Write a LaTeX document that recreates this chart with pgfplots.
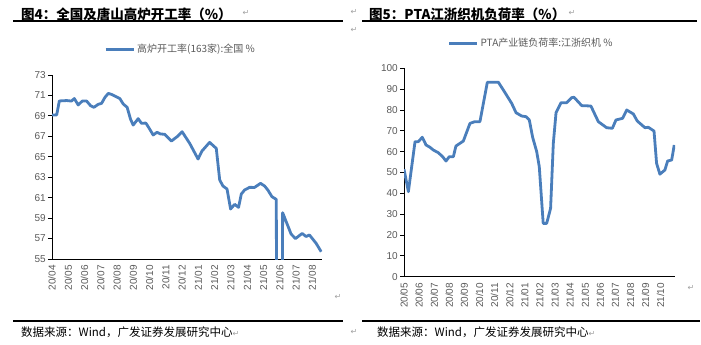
\documentclass[border=0pt]{standalone}
\usepackage{fontspec}
\setmainfont{Liberation Sans}
\newfontfamily\cjk{Noto Sans CJK SC}
\newfontfamily\dejavu{DejaVu Sans}
\usepackage{pgfplots}
\pgfplotsset{compat=1.18}
\definecolor{lineblue}{HTML}{4A7EBB}
\definecolor{tickgray}{HTML}{595959}
\definecolor{markgray}{HTML}{A0A0A0}
\pgfplotsset{mystyle/.style={
  scale only axis,
  axis x line*=bottom, axis y line*=left,
  axis line style={black, line width=0.9pt, -},
  tick align=outside, major tick length=4pt,
  ytick style={black, line width=0.8pt},
  xtick style={draw=none},
  tick label style={font=\fontsize{10}{12}\selectfont, text=tickgray},
  /pgf/number format/assume math mode=true,
  xticklabel style={rotate=90, anchor=east, inner sep=2pt},
  yticklabel style={inner sep=2pt},
  legend style={draw=none, fill=none, font=\cjk\fontsize{10}{12}\selectfont, text=tickgray, inner xsep=0pt, inner ysep=0pt, legend cell align=left},
  legend image code/.code={\draw[line width=3pt, lineblue] (0pt,0pt) -- (28pt,0pt);},
}}
\begin{document}
\begin{tikzpicture}[x=1pt,y=1pt]
\path (0,0) rectangle (701,-345);
% titles and rules
\node[anchor=west, inner sep=0pt] at (21,-14) {\cjk\bfseries\fontsize{13.5}{16}\selectfont 图4：全国及唐山高炉开工率（\%）};
\node[anchor=west, inner sep=0pt] at (369,-14) {\cjk\bfseries\fontsize{13.5}{16}\selectfont 图5：PTA江浙织机负荷率（\%）};
\draw[line width=1.2pt] (13,-21) -- (343,-21);
\draw[line width=1.2pt] (362,-21) -- (697,-21);
\draw[line width=1.2pt] (13,-321) -- (343,-321);
\draw[line width=1.2pt] (362,-321) -- (700,-321);
\node[anchor=west, inner sep=0pt] at (21,-332) {\cjk\fontsize{11.5}{14}\selectfont 数据来源：Wind，广发证券发展研究中心{\dejavu\color{markgray}\fontsize{8}{10}\selectfont ↵}};
\node[anchor=west, inner sep=0pt] at (377,-332) {\cjk\fontsize{11.5}{14}\selectfont 数据来源：Wind，广发证券发展研究中心{\dejavu\color{markgray}\fontsize{8}{10}\selectfont ↵}};
\node[inner sep=0pt, text=markgray] at (246,-13) {\dejavu\fontsize{8}{10}\selectfont ↵};
\node[inner sep=0pt, text=markgray] at (572,-13) {\dejavu\fontsize{8}{10}\selectfont ↵};
\node[inner sep=0pt, text=markgray] at (354,-12) {\dejavu\fontsize{8}{10}\selectfont ↵};
\node[inner sep=0pt, text=markgray] at (354,-30) {\dejavu\fontsize{8}{10}\selectfont ↵};
\node[inner sep=0pt, text=markgray] at (338,-297) {\dejavu\fontsize{8}{10}\selectfont ↵};
\node[inner sep=0pt, text=markgray] at (691,-288) {\dejavu\fontsize{8}{10}\selectfont ↵};
\node[inner sep=0pt, text=markgray] at (354,-332) {\dejavu\fontsize{8}{10}\selectfont ↵};

% left chart
\begin{axis}[mystyle,
  at={(52pt,-259pt)}, anchor=south west,
  width=270pt, height=184pt,
  xmin=0, xmax=16.6, ymin=55, ymax=73,
  ytick={55,57,...,73},
  xtick={0,...,16},
  xticklabels={20/04,20/05,20/06,20/07,20/08,20/09,20/10,20/11,20/12,21/01,21/02,21/03,21/04,21/05,21/06,21/07,21/08},
  legend style={at={(0.476,1.141)}, anchor=center},
]
\addplot[lineblue, line width=2.8pt, line join=round] coordinates {
(0,69.09) (0.29,69.1) (0.45,70.46) (0.9,70.5) (1.2,70.45) (1.37,70.7) (1.61,70.07)
(1.86,70.45) (2.13,70.45) (2.37,70.0) (2.58,69.84) (2.84,70.13) (3.05,70.23)
(3.25,70.8) (3.46,71.2) (3.66,71.1) (4.17,70.7) (4.38,70.16) (4.62,69.84)
(4.83,68.67) (4.99,68.1) (5.3,68.73) (5.5,68.27) (5.77,68.3) (5.97,67.8)
(6.22,67.13) (6.46,67.4) (6.67,67.23) (6.93,67.2) (7.34,66.54) (7.69,66.96)
(8.0,67.45) (8.47,66.3) (8.98,64.78) (9.22,65.56) (9.69,66.41) (10.1,65.82)
(10.31,62.73) (10.51,62.14) (10.76,61.85) (10.98,59.89) (11.23,60.35) (11.47,60.05)
(11.64,61.36) (11.84,61.75) (12.15,62.01) (12.45,62.0) (12.82,62.4) (13.07,62.14)
(13.27,61.75) (13.52,61.1) (13.79,60.83) (13.84,30) (14.12,30) (14.18,59.53)
(14.7,57.44) (14.97,57.0) (15.38,57.5) (15.62,57.2) (15.83,57.35) (16.24,56.53) (16.55,55.71)
};
\addlegendentry{高炉开工率(163家):全国 \%}
\end{axis}

% right chart
\begin{axis}[mystyle,
  at={(404pt,-276.7pt)}, anchor=south west,
  width=271pt, height=208.4pt,
  xmin=0, xmax=17.95, ymin=0, ymax=100,
  ytick={0,10,...,100},
  xtick={0,...,17},
  xticklabels={20/05,20/06,20/07,20/08,20/09,20/10,20/11,20/12,21/01,21/02,21/03,21/04,21/05,21/06,21/07,21/08,21/09,21/10},
  legend style={at={(0.469,1.121)}, anchor=center},
]
\addplot[lineblue, line width=2.8pt, line join=round] coordinates {
(0,51.6) (0.29,40.8) (0.73,64.8) (0.95,64.8) (1.21,66.9) (1.46,63.2) (1.72,62.1)
(1.94,60.8) (2.27,59.5) (2.56,57.6) (2.78,55.5) (3.0,57.6) (3.27,57.6) (3.44,62.7)
(3.93,65.1) (4.37,73.6) (4.7,74.4) (5.03,74.4) (5.52,93.3) (6.25,93.3) (6.58,89.6)
(7.13,83.2) (7.42,78.7) (7.79,77.1) (8.08,76.8) (8.3,75.2) (8.52,66.9) (8.79,60.0)
(8.96,52.8) (9.22,25.6) (9.45,25.6) (9.71,32.8) (9.89,64.0) (10.07,78.7) (10.4,83.5)
(10.77,83.5) (11.1,85.9) (11.26,86.1) (11.77,82.1) (12.38,81.9) (12.87,74.4)
(13.42,71.5) (13.8,71.2) (14.04,75.2) (14.48,76.0) (14.75,80.0) (15.19,78.1)
(15.45,74.7) (15.96,71.5) (16.18,71.7) (16.56,69.9) (16.73,54.4) (16.95,49.2)
(17.28,51.2) (17.46,55.5) (17.73,56.0) (17.9,63.2)
};
\addlegendentry{PTA产业链负荷率:江浙织机 \%}
\end{axis}
\end{tikzpicture}
\end{document}
